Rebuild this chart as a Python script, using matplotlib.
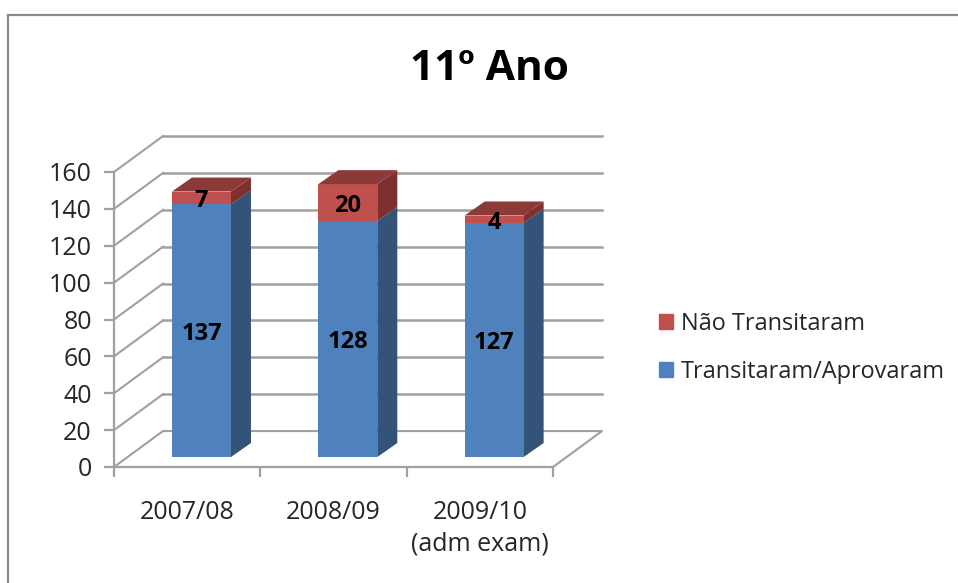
import matplotlib
matplotlib.use("Agg")
import matplotlib.pyplot as plt
from matplotlib.patches import Patch
from matplotlib.lines import Line2D

plt.rcParams['font.family'] = ['Open Sans', 'DejaVu Sans']

categories = ["2007/08", "2008/09", "2009/10\n(adm exam)"]
transitaram = [137, 128, 127]
nao_transitaram = [7, 20, 4]
yticks = [0, 20, 40, 60, 80, 100, 120, 140, 160]

W, H = 958, 583
GRID = '#a0a0a0'

# fake 3d: everything is projected from the front plane of the axes
wall_dx, wall_dy = 0.335, 19.5    # front plane to back wall
bar_dx, bar_dy = 0.137, 7.6       # depth of a bar
base_dy = 5.4                     # bars stand a bit behind the front edge
bar_left = 0.396
bar_width = 0.403
label_nudge = -1.8                # numbers sit slightly below the segment middle

fig = plt.figure(figsize=(W / 100, H / 100), dpi=100)
ax = fig.add_axes([114 / W, 1 - 467 / H, 439 / W, 295 / H])
ax.set_xlim(0, 3)
ax.set_ylim(0, 160)
ax.patch.set_visible(False)

# chart frame (only top and left are in the picture)
fig.add_artist(Line2D([8 / W, 8 / W], [0, 1 - 15 / H], color='#8c8c8c', lw=1.6))
fig.add_artist(Line2D([8 / W, 1], [1 - 15 / H, 1 - 15 / H], color='#8c8c8c', lw=1.6))

# walls and floor
for v in yticks:
    ax.plot([0, wall_dx], [v, v + wall_dy], color=GRID, lw=1.5, clip_on=False, zorder=1)
    if v > 0:
        ax.plot([wall_dx, 3 + wall_dx], [v + wall_dy, v + wall_dy], color=GRID, lw=1.8,
                clip_on=False, zorder=1)
ax.plot([wall_dx, 3 + wall_dx, 3], [wall_dy, wall_dy, 0], color=GRID, lw=1.5, clip_on=False, zorder=1)


def box(x, low, high, front, side, top=None):
    x1 = x + bar_width
    y0 = low + base_dy
    y1 = high + base_dy
    ax.fill([x1, x1 + bar_dx, x1 + bar_dx, x1],
            [y0, y0 + bar_dy, y1 + bar_dy, y1], color=side, lw=0, clip_on=False, zorder=3)
    ax.fill([x, x1, x1, x], [y0, y0, y1, y1], color=front, lw=0, clip_on=False, zorder=4)
    if top:
        ax.fill([x, x1, x1 + bar_dx, x + bar_dx],
                [y1, y1, y1 + bar_dy, y1 + bar_dy], color=top, lw=0, clip_on=False, zorder=4)


for i in range(len(categories)):
    x = i + bar_left
    a = transitaram[i]
    b = nao_transitaram[i]
    box(x, 0, a, '#4f81bd', '#335379')
    box(x, a, a + b, '#c0504d', '#7d302e', '#8c3a38')
    cx = x + bar_width / 2
    ax.text(cx, base_dy + a / 2 + label_nudge, str(a), ha='center', va='center', fontsize=17,
            fontweight='bold', color='black', zorder=6)
    ax.text(cx, base_dy + a + b / 2 + label_nudge, str(b), ha='center', va='center', fontsize=17,
            fontweight='bold', color='black', zorder=6)

for s in ['top', 'right']:
    ax.spines[s].set_visible(False)
for s in ['left', 'bottom']:
    ax.spines[s].set_color(GRID)
    ax.spines[s].set_linewidth(1.6)
ax.set_yticks(yticks)
ax.set_xticks([0, 1, 2, 3])
ax.set_xticks([0.5, 1.5, 2.5], minor=True)
ax.set_xticklabels([])
ax.set_xticklabels(categories, minor=True, fontsize=18, color='#262626', linespacing=1.35)
ax.tick_params(axis='x', which='minor', length=0, pad=24)
ax.tick_params(axis='x', which='major', length=7, width=1.6, color=GRID)
ax.tick_params(axis='y', length=7, width=1.6, color=GRID, labelsize=18, labelcolor='#262626', pad=9)

fig.suptitle("11º Ano", x=489 / W, y=1 - 70 / H, fontsize=30.5, fontweight='bold',
             color='black', va='center')

handles = [Patch(color='#c0504d', label="Não Transitaram"),
           Patch(color='#4f81bd', label="Transitaram/Aprovaram")]
fig.legend(handles=handles, loc='center left', bbox_to_anchor=(652 / W, 1 - 348 / H), frameon=False,
           fontsize=16.9, labelcolor='#262626', handlelength=0.6, handleheight=0.6, handletextpad=0.33,
           labelspacing=1.02, borderpad=0.3, borderaxespad=0)

fig.savefig('out.png', dpi=100)
